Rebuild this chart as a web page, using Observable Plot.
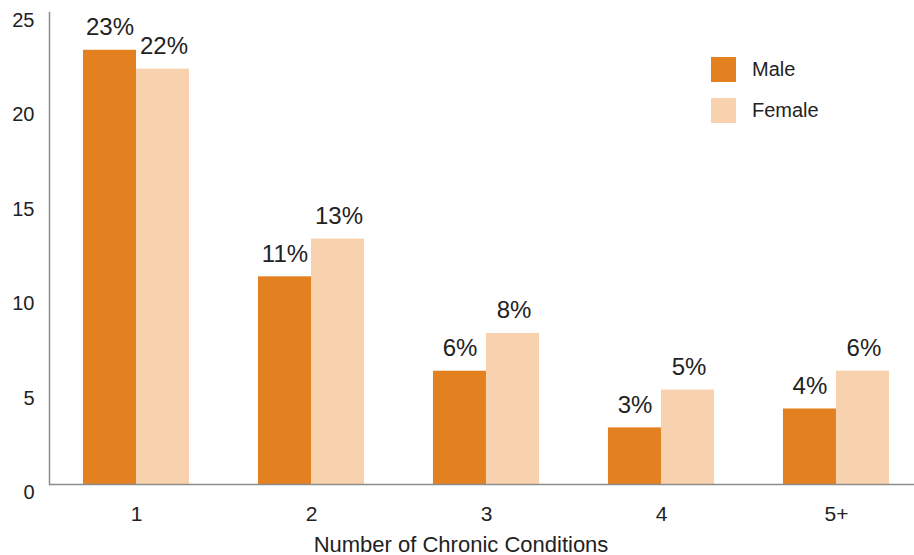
<!DOCTYPE html>
<html>
<head>
<meta charset="utf-8">
<script src="https://cdn.jsdelivr.net/npm/d3@7"></script>
<script src="https://cdn.jsdelivr.net/npm/@observablehq/plot@0.6"></script>
<style>
  body { margin: 0; background: #fff; }
  #wrap { position: relative; width: 914px; height: 555px; font-family: "Liberation Sans", Arial, Helvetica, sans-serif; color: #222; }
  .legend { position: absolute; left: 711px; font-size: 20px; }
  .legend .item { position: absolute; left: 0; display: flex; align-items: center; white-space: nowrap; }
  .legend .sw { width: 25px; height: 25px; margin-right: 16px; }
</style>
</head>
<body>
<div id="wrap"></div>
<script>
const categories = ["1", "2", "3", "4", "5+"];
const maleValues = [23, 11, 6, 3, 4];
const femaleValues = [22, 13, 8, 5, 6];
const seriesNames = ["Male", "Female"];
const seriesColors = ["#E3801F", "#F8D2AE"];
const yTicks = [0, 5, 10, 15, 20, 25];
const xTitle = "Number of Chronic Conditions";

const maleData = categories.map((c, i) => ({cat: c, sex: "Male", value: maleValues[i]}));
const femaleData = categories.map((c, i) => ({cat: c, sex: "Female", value: femaleValues[i]}));

const font = '"Liberation Sans", Arial, Helvetica, sans-serif';
const axisColor = "#8c8c8c";

const chart = Plot.plot({
  width: 914,
  height: 555,
  marginLeft: 49,
  marginRight: 0,
  marginTop: 12,
  marginBottom: 71,
  style: {fontFamily: font, color: "#222", background: "#fff", overflow: "visible"},
  x: {domain: categories, paddingInner: 0.394, paddingOuter: 0.1686, align: 0.576, round: false},
  y: {domain: [0, 25]},
  marks: [
    Plot.barY(maleData, {x: "cat", y: "value", fill: seriesColors[0], insetRight: 53, insetLeft: 0}),
    Plot.barY(femaleData, {x: "cat", y: "value", fill: seriesColors[1], insetLeft: 53, insetRight: 0}),
    Plot.ruleY([0], {stroke: axisColor, strokeWidth: 1.5}),
    Plot.frame({anchor: "left", stroke: axisColor, strokeWidth: 1.5}),
    Plot.axisY({ticks: yTicks, tickSize: 0, tickPadding: 15, dy: 8, fontSize: 20, label: null, fill: "#222"}),
    Plot.axisX({tickSize: 0, tickPadding: 22, fontSize: 21, label: null, fill: "#222"}),
    Plot.text(maleData, {x: "cat", y: "value", text: d => d.value + "%", dx: -26.5, dy: -15, lineAnchor: "bottom", fontSize: 24, fill: "#222"}),
    Plot.text(femaleData, {x: "cat", y: "value", text: d => d.value + "%", dx: 27.5, dy: -15, lineAnchor: "bottom", fontSize: 24, fill: "#222"}),
    Plot.text([xTitle], {text: d => d, frameAnchor: "bottom", dx: -21, dy: 60, fontSize: 22, fill: "#222", lineAnchor: "middle"})
  ]
});

const wrap = document.getElementById("wrap");
wrap.appendChild(chart);

const legend = document.createElement("div");
legend.className = "legend";
legend.style.top = "0px";
const tops = [57, 98];
seriesNames.forEach((name, i) => {
  const item = document.createElement("div");
  item.className = "item";
  item.style.top = tops[i] + "px";
  const sw = document.createElement("div");
  sw.className = "sw";
  sw.style.background = seriesColors[i];
  const lab = document.createElement("span");
  lab.textContent = name;
  item.appendChild(sw);
  item.appendChild(lab);
  legend.appendChild(item);
});
wrap.appendChild(legend);
</script>
</body>
</html>
